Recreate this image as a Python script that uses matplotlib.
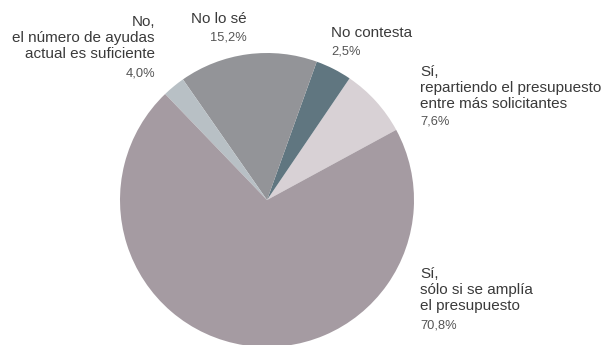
import matplotlib
matplotlib.use("Agg")
import matplotlib.pyplot as plt

# wedges as drawn, counterclockwise from the upper right
sizes = [7.6, 4.0, 15.2, 2.5, 70.8]
colors = ["#d8d1d5", "#607680", "#939498", "#b8c0c5", "#a59ba2"]

categories = ["Sí,\nrepartiendo el presupuesto\nentre más solicitantes",
              "No contesta",
              "No lo sé",
              "No,\nel número de ayudas\nactual es suficiente",
              "Sí,\nsólo si se amplía\nel presupuesto"]
pct_labels = ["7,6%", "2,5%", "15,2%", "4,0%", "70,8%"]

plt.rcParams["font.family"] = ["Liberation Sans", "DejaVu Sans"]

W, H = 606, 345
fig = plt.figure(figsize=(W / 100, H / 100), dpi=100)
fig.patch.set_facecolor("white")

cx, cy, r = 267, 200, 147
ax = fig.add_axes([(cx - r) / W, (H - cy - r) / H, 2 * r / W, 2 * r / H])
ax.pie(sizes, colors=colors, startangle=28.5, counterclock=True,
       wedgeprops=dict(linewidth=0))
ax.set_xlim(-1, 1)
ax.set_ylim(-1, 1)
ax.axis("off")


def put(x, y, s, size, color, ha):
    fig.text(x / W, 1 - y / H, s, fontsize=size, color=color, ha=ha,
             va="center", linespacing=1.17, multialignment=ha)


cat_color = "#3a3a3a"
pct_color = "#555555"

# (x, y of category block, y of percent, alignment)
pos = [(420, 88, 121, "left"),
       (331, 33, 51, "left"),
       (247, 19, 37, "right"),
       (155, 38, 73, "right"),
       (420, 290, 325, "left")]

for (x, yc, yp, ha), cat, pct in zip(pos, categories, pct_labels):
    put(x, yc, cat, 11, cat_color, ha)
    put(x, yp, pct, 9.3, pct_color, ha)

fig.savefig("out.png", dpi=100, facecolor="white")
